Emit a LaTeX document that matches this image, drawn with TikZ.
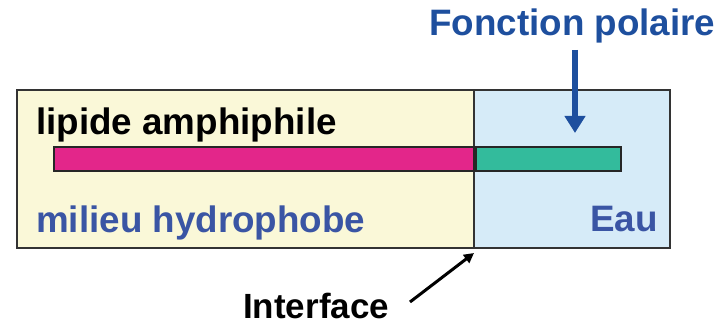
\documentclass[tikz,border=0pt]{standalone}
\usepackage{fontspec}
\setmainfont{Liberation Sans}
\usetikzlibrary{arrows.meta}
\definecolor{hydro}{HTML}{FAF8D8}
\definecolor{water}{HTML}{D6EBF8}
\definecolor{tail}{HTML}{E3268A}
\definecolor{head}{HTML}{33BB9C}
\definecolor{labelblue}{HTML}{3A55A4}
\definecolor{arrowblue}{HTML}{1E4F9E}
\definecolor{frame}{HTML}{333333}
\tikzset{
  zone/.style={draw=frame, line width=1.5pt},
  chain/.style={draw=black!85, line width=1.3pt},
  lbl/.style={font=\bfseries\fontsize{36.8}{40}\selectfont, anchor=base west, inner sep=0pt},
}
\begin{document}
\begin{tikzpicture}[x=1pt,y=-1pt]
\useasboundingbox (0,0) rectangle (720,323);
% the two media
\draw[zone, fill=hydro] (17,90) rectangle (474,248);
\draw[zone, fill=water] (474,90) rectangle (670,248);
% amphiphilic lipid: apolar tail and polar head
\draw[chain, fill=tail] (54,147) rectangle (474,171);
\draw[chain, fill=head] (476,147) rectangle (621,171);
% labels
\node[lbl, text=arrowblue] (polar) at (429,36) {Fonction polaire};
\node[lbl] (lipid) at (36,135) {lipide amphiphile};
\node[lbl, text=labelblue] (oil) at (36,233) {milieu hydrophobe};
\node[lbl, text=labelblue] (water) at (590,232) {Eau};
\node[lbl, font=\bfseries\fontsize{35}{38}\selectfont] (iface) at (243,318) {Interface};
\coordinate (headtop) at (575,133);
\coordinate (ifacept) at (474,253);
% pointers
\draw[arrowblue, line width=6.5pt, -{Triangle[width=20pt,length=17pt]}] (575,50) -- (headtop);
\draw[black, line width=3pt, -{Triangle[width=10pt,length=10pt]}] (410,302) -- (ifacept);
\end{tikzpicture}
\end{document}
